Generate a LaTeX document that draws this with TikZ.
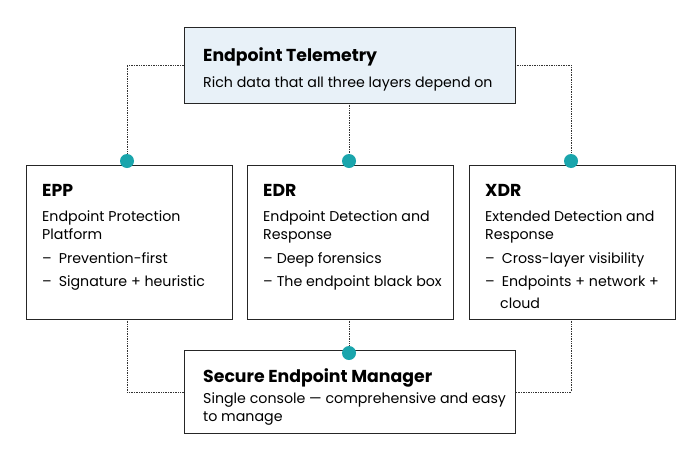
\documentclass[tikz,border=0pt]{standalone}
\usepackage{fontspec}
\setmainfont{Poppins}
\definecolor{topfill}{HTML}{E8F1F8}
\definecolor{dotc}{HTML}{1AA5AC}
\begin{document}
\begin{tikzpicture}[x=1pt,y=-1pt,
  box/.style={draw=black!85,line width=0.8pt,fill=white},
  conn/.style={densely dotted,line width=0.7pt,black!80},
  dot/.style={circle,fill=dotc,inner sep=0pt,minimum size=14pt},
  ttl/.style={anchor=base west,font=\fontsize{17.3}{18}\selectfont\bfseries,inner sep=0pt},
  txt/.style={anchor=base west,font=\fontsize{14.2}{18}\selectfont,inner sep=0pt,align=left}]
\useasboundingbox (0,0) rectangle (700,450);
\fill[white] (0,0) rectangle (700,450);
% connectors
\coordinate (tl) at (127,65); \coordinate (tr) at (571,65);
\coordinate (bl) at (127,392); \coordinate (br) at (571,392);
\draw[conn] (184,65) -- (tl) -- (127,161);
\draw[conn] (515,65) -- (tr) -- (571,161);
\draw[conn] (349,103) -- (349,161);
\draw[conn] (127,319) -- (bl) -- (184,392);
\draw[conn] (571,319) -- (br) -- (515,392);
\draw[conn] (349,319) -- (349,353);
% boxes
\node[box,fill=topfill,minimum width=331pt,minimum height=76pt,anchor=north west] (top) at (184,27) {};
\node[box,minimum width=206pt,minimum height=154pt,anchor=north west] (epp) at (26,165) {};
\node[box,minimum width=206pt,minimum height=154pt,anchor=north west] (edr) at (247,165) {};
\node[box,minimum width=206pt,minimum height=154pt,anchor=north west] (xdr) at (469,165) {};
\node[box,minimum width=331pt,minimum height=83pt,anchor=north west] (bot) at (184,350) {};
% dots
\node[dot] (d1) at (127,161) {};
\node[dot] (d2) at (349,161) {};
\node[dot] (d3) at (571,161) {};
\node[dot] (d4) at (349,353) {};
% texts
\node[ttl] (t1) at (203,61) {Endpoint Telemetry};
\node[txt] (t2) at (203,87) {Rich data that all three layers depend on};
\node[ttl] (e1) at (42,196) {EPP};
\node[txt] (e2) at (42,221) {Endpoint Protection};
\node[txt] (e3) at (42,239) {Platform};
\node[txt] (e4) at (42,263) {–\hspace{7pt}Prevention-first};
\node[txt] (e5) at (42,286) {–\hspace{7pt}Signature + heuristic};
\node[ttl] (r1) at (263,196) {EDR};
\node[txt] (r2) at (263,221) {Endpoint Detection and};
\node[txt] (r3) at (263,239) {Response};
\node[txt] (r4) at (263,263) {–\hspace{4pt}Deep forensics};
\node[txt] (r5) at (263,286) {–\hspace{4pt}The endpoint black box};
\node[ttl] (x1) at (485,196) {XDR};
\node[txt] (x2) at (485,221) {Extended Detection and};
\node[txt] (x3) at (485,239) {Response};
\node[txt] (x4) at (485,263) {–\hspace{7pt}Cross-layer visibility};
\node[txt] (x5) at (485,286) {–\hspace{7pt}Endpoints + network +};
\node[txt] (x6) at (500,308) {cloud};
\node[ttl] (b1) at (203,382) {Secure Endpoint Manager};
\node[txt] (b2) at (203,403) {Single console — comprehensive and easy};
\node[txt] (b3) at (203,421) {to manage};
\end{tikzpicture}
\end{document}
